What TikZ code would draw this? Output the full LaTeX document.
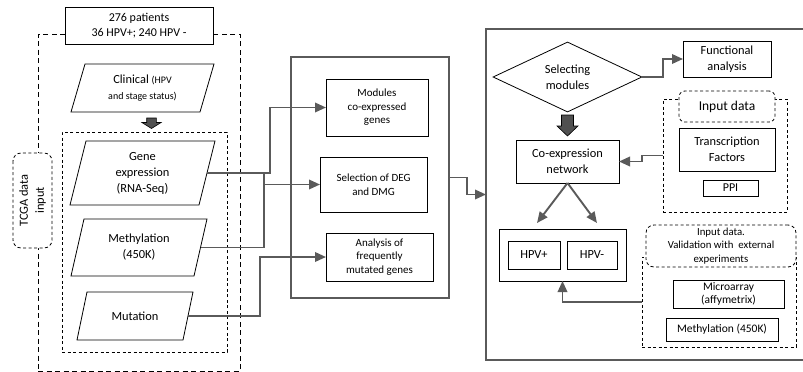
\documentclass[tikz,border=0pt]{standalone}
\usepackage{fontspec}
\setmainfont{Carlito}
\usetikzlibrary{arrows.meta,shapes.geometric}
\definecolor{lg}{HTML}{5A5A5A}
\definecolor{fatc}{HTML}{505050}
\newcommand\fsz[2]{\fontsize{#1}{#2}\selectfont}
\begin{document}
\begin{tikzpicture}[x=1pt,y=-1pt,
 box/.style={draw=black, line width=0.8pt, inner sep=0pt, outer sep=0pt, align=center, fill=white},
 gbox/.style={draw=lg, line width=1.3pt, inner sep=0pt, outer sep=0pt},
 txt/.style={inner sep=0pt, outer sep=0pt, align=center},
 para/.style={draw=black, line width=0.8pt},
 odash/.style={draw=black, line width=0.8pt, dash pattern=on 5pt off 3.5pt, inner sep=0pt, outer sep=0pt},
 idash/.style={draw=black, line width=0.8pt, dash pattern=on 3pt off 2.5pt, inner sep=0pt, outer sep=0pt},
 rdash/.style={draw=black, fill=white, line width=0.8pt, dash pattern=on 3pt off 2.5pt, rounded corners=6pt, inner sep=0pt, outer sep=0pt, align=center},
 conn/.style={draw=lg, line width=1.9pt},
 arr/.style={-{Triangle[length=11pt,width=9.5pt]}},
 fat/.style={fill=fatc, draw=black, line width=0.6pt},
 big/.style={font=\fsz{12.4}{16}},
 small/.style={font=\fsz{11}{13.5}}
]
\useasboundingbox (0,0) rectangle (803,372);
\clip (0,0) rectangle (803,372);

% ---------- left block ----------
\node[odash, minimum width=202, minimum height=337] (outer) at (139,202.5) {};
\node[rdash, rotate=90, minimum width=95, minimum height=39, rounded corners=8pt, big] (tcga) at (32.5,200.5) {TCGA data\\input};
\node[box, minimum width=148, minimum height=37, font=\fsz{12}{15}] (pat) at (139,25.5) {276 patients\\36 HPV+; 240 HPV -};

\node[txt, minimum width=143, minimum height=48, big] (clin) at (142.5,88) {Clinical {\fsz{10}{13}(HPV}\\{\fsz{10}{13}and stage status)}};
\draw[para] ([xshift=14pt]clin.north west) -- (clin.north east) -- ([xshift=-14pt]clin.south east) -- (clin.south west) -- cycle;

\node[idash, minimum width=165, minimum height=220] (inner) at (144.5,242) {};

\coordinate (fa) at (151.5,118);
\draw[fat] ([xshift=-4.8pt]fa) -- ([xshift=4.8pt]fa) -- ([xshift=4.8pt,yshift=-4.5pt]fa) -- ([xshift=9.6pt,yshift=-4.5pt]fa) -- ([yshift=-10.5pt]fa) -- ([xshift=-9.6pt,yshift=-4.5pt]fa) -- ([xshift=-4.8pt,yshift=-4.5pt]fa) -- cycle;

\node[txt, minimum width=145, minimum height=64, big] (gene) at (142.5,173) {Gene\\expression\\(RNA-Seq)};
\draw[para] ([xshift=16pt]gene.north west) -- (gene.north east) -- ([xshift=-16pt]gene.south east) -- (gene.south west) -- cycle;
\coordinate (geneR) at ([xshift=-8pt]gene.east);

\node[txt, minimum width=136, minimum height=57, big] (meth) at (139,247.5) {Methylation\\(450K)};
\draw[para] ([xshift=13pt]meth.north west) -- (meth.north east) -- ([xshift=-13pt]meth.south east) -- (meth.south west) -- cycle;
\coordinate (methR) at ([xshift=-6.5pt]meth.east);

\node[txt, minimum width=116, minimum height=48, big] (mut) at (135,316) {Mutation};
\draw[para] ([xshift=10pt]mut.north west) -- (mut.north east) -- ([xshift=-10pt]mut.south east) -- (mut.south west) -- cycle;
\coordinate (mutR) at ([xshift=-5pt]mut.east);

% ---------- middle block ----------
\node[gbox, minimum width=158, minimum height=241] (mid) at (370,177.5) {};
\node[box, minimum width=102, minimum height=57, small] (mod) at (377,107.5) {Modules\\co-expressed\\genes};
\node[box, minimum width=107, minimum height=55, small] (sel) at (373.5,184.5) {Selection of DEG\\and DMG};
\node[box, minimum width=107, minimum height=48, small] (ana) at (379.5,257) {Analysis of\\frequently\\mutated genes};

\coordinate (jg) at (270,0);
\coordinate (js) at (264,0);
\coordinate (jm) at (260,0);
\draw[conn,arr] (geneR) -- (jg |- geneR) |- (mod.west);
\draw[conn,arr] (geneR) -- (js |- geneR) |- (sel.west);
\draw[conn] (methR) -- (js |- methR) -- (js |- sel.west);
\draw[conn,arr] (mutR) -- (jm |- mutR) |- (ana.west);

% ---------- right block ----------
\node[gbox, minimum width=326, minimum height=331] (rb) at (649,194.5) {};
\draw[conn,arr] (mid.east) -- ++(18,0) |- (rb.west);

\node[shape=diamond, draw=black, line width=0.8pt, inner sep=0pt, minimum width=149, minimum height=68, align=center, big] (dia) at (567.5,77) {Selecting\\modules};
\node[box, minimum width=88, minimum height=36, big] (fun) at (727,59) {Functional\\analysis};
\draw[conn,arr] (dia.east) -- ++(21,0) |- (fun.west);

\node[box, minimum width=103, minimum height=43, big] (coex) at (567.5,161.5) {Co-expression\\network};
\coordinate (fb) at (567.5,115);
\draw[fat] ([xshift=-6pt]fb) -- ([xshift=6pt]fb) -- ([xshift=6pt,yshift=-11pt]fb) -- ([xshift=10.5pt,yshift=-11pt]fb) -- ([yshift=-21pt]fb) -- ([xshift=-10.5pt,yshift=-11pt]fb) -- ([xshift=-6pt,yshift=-11pt]fb) -- cycle;

\node[idash, minimum width=124, minimum height=113] (ig) at (725,155.5) {};
\node[rdash, minimum width=96, minimum height=31, font=\fsz{13.5}{16}] (idt) at (727,106.5) {Input data};
\node[box, minimum width=96, minimum height=43, big] (tf) at (727,149.5) {Transcription\\Factors};
\node[box, minimum width=55, minimum height=16, font=\fsz{12}{14}] (ppi) at (730.5,188) {PPI};
\draw[conn,arr] (ig.west) -- ++(-21,0) |- (coex.east);

\node[box, minimum width=127, minimum height=52] (hpv) at (562.5,255) {};
\node[box, minimum width=52, minimum height=28, big] (hp) at (534,255) {HPV+};
\node[box, minimum width=50, minimum height=28, big] (hm) at (592,255) {HPV-};
\coordinate (t1) at (537,223);
\coordinate (t2) at (597,223);
\draw[conn,arr] (coex.south) -- (t1);
\draw[conn,arr] (coex.south) -- (t2);

\node[idash, minimum width=154, minimum height=90] (vg) at (719,302) {};
\node[rdash, minimum width=150, minimum height=42, rounded corners=8pt, font=\fsz{10.8}{13.5}] (vt) at (721,246) {Input data.\\Validation with\ \ external\\experiments};
\node[box, minimum width=111, minimum height=28, font=\fsz{11.5}{13.5}] (mic) at (728.5,294) {Microarray\\(affymetrix)};
\node[box, minimum width=112, minimum height=23, font=\fsz{11.5}{13.5}] (m450) at (722,329.5) {Methylation (450K)};
\draw[conn,arr] (vg.west) -| (hpv.south);
\end{tikzpicture}
\end{document}
